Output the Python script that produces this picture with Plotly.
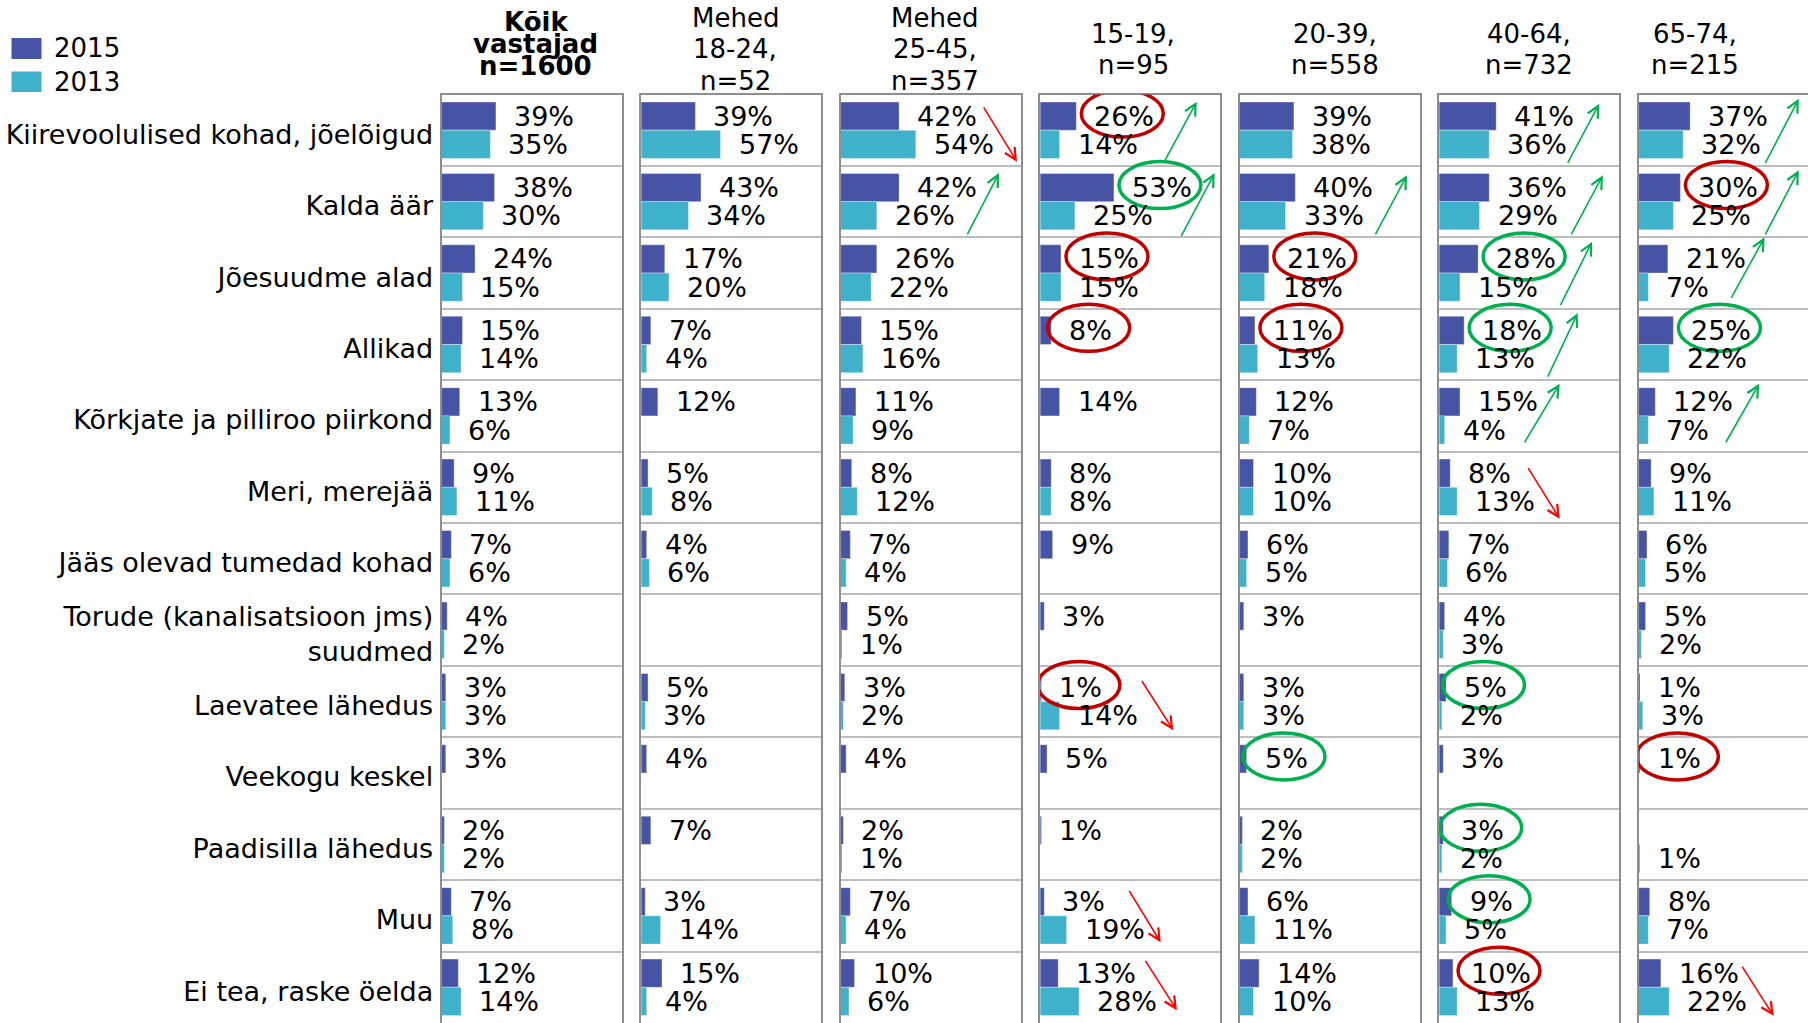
import plotly.graph_objects as go

# ---------------- data ----------------
categories = [
    "Kiirevoolulised kohad, jõelõigud", "Kalda äär", "Jõesuudme alad", "Allikad",
    "Kõrkjate ja pilliroo piirkond", "Meri, merejää", "Jääs olevad tumedad kohad",
    "Torude (kanalisatsioon jms)<br>suudmed", "Laevatee lähedus", "Veekogu keskel",
    "Paadisilla lähedus", "Muu", "Ei tea, raske öelda",
]

group_headers = [
    ["Kõik", "vastajad", "n=1600"],
    ["Mehed", "18-24,", "n=52"],
    ["Mehed", "25-45,", "n=357"],
    ["15-19,", "n=95"],
    ["20-39,", "n=558"],
    ["40-64,", "n=732"],
    ["65-74,", "n=215"],
]

series_names = ["2015", "2013"]
N = None
all_2015 = [39, 38, 24, 15, 13, 9, 7, 4, 3, 3, 2, 7, 12]
all_2013 = [35, 30, 15, 14, 6, 11, 6, 2, 3, N, 2, 8, 14]
m1824_2015 = [39, 43, 17, 7, 12, 5, 4, N, 5, 4, 7, 3, 15]
m1824_2013 = [57, 34, 20, 4, N, 8, 6, N, 3, N, N, 14, 4]
m2545_2015 = [42, 42, 26, 15, 11, 8, 7, 5, 3, 4, 2, 7, 10]
m2545_2013 = [54, 26, 22, 16, 9, 12, 4, 1, 2, N, 1, 4, 6]
a1519_2015 = [26, 53, 15, 8, 14, 8, 9, 3, 1, 5, 1, 3, 13]
a1519_2013 = [14, 25, 15, N, N, 8, N, N, 14, N, N, 19, 28]
a2039_2015 = [39, 40, 21, 11, 12, 10, 6, 3, 3, 5, 2, 6, 14]
a2039_2013 = [38, 33, 18, 13, 7, 10, 5, N, 3, N, 2, 11, 10]
a4064_2015 = [41, 36, 28, 18, 15, 8, 7, 4, 5, 3, 3, 9, 10]
a4064_2013 = [36, 29, 15, 13, 4, 13, 6, 3, 2, N, 2, 5, 13]
a6574_2015 = [37, 30, 21, 25, 12, 9, 6, 5, 1, 1, N, 8, 16]
a6574_2013 = [32, 25, 7, 22, 7, 11, 5, 2, 3, N, 1, 7, 22]

values_2015 = [all_2015, m1824_2015, m2545_2015, a1519_2015, a2039_2015, a4064_2015, a6574_2015]
values_2013 = [all_2013, m1824_2013, m2545_2013, a1519_2013, a2039_2013, a4064_2013, a6574_2013]

# highlighted 2015 values: (panel, category index, colour key)
circled = [
    (3, 0, "red"), (3, 1, "green"), (3, 2, "red"), (3, 3, "red"), (3, 8, "red"),
    (4, 2, "red"), (4, 3, "red"), (4, 9, "green"),
    (5, 2, "green"), (5, 3, "green"), (5, 8, "green"), (5, 10, "green"), (5, 11, "green"), (5, 12, "red"),
    (6, 1, "red"), (6, 3, "green"), (6, 9, "red"),
]
# trend arrows: (panel, category index, direction)
trend_arrows = [
    (2, 0, "down"), (2, 1, "up"),
    (3, 0, "up"), (3, 1, "up"), (3, 8, "down"), (3, 11, "down"), (3, 12, "down"),
    (4, 1, "up"),
    (5, 0, "up"), (5, 1, "up"), (5, 2, "up"), (5, 3, "up"), (5, 4, "up"), (5, 5, "down"),
    (6, 0, "up"), (6, 1, "up"), (6, 2, "up"), (6, 4, "up"), (6, 12, "down"),
]

# ---------------- layout / style ----------------
W, H = 1808, 1023
PPU = 1.393            # pixels per percentage point
PANEL_W = 180
PANEL_L0 = 441.6
PANEL_PITCH = 199.5
TOP_PX = 94.5
FONT = "DejaVu Sans, Verdana, sans-serif"
FS = 26       # headers / legend
FSV = 27      # value labels / category labels
C2015 = "#4753A5"
C2013 = "#3FB1CB"
BORDER = "#8e8e8e"
GRID = "#bdbdbd"
MARK_COL = {"red": "#C00000", "green": "#00B050"}
ARROW_COL = {"down": "#FF0000", "up": "#00B050"}
LABEL_GAP = 16
# arrow geometry inside a cell (fractions of panel width / row height): x tail, x head, y tail, y head
arrow_geom = {
    (2, 0): (0.79, 0.98, 0.16, 0.94), (2, 1): (0.70, 0.88, 0.98, 0.10),
    (3, 0): (0.69, 0.87, 0.94, 0.10), (3, 1): (0.78, 0.97, 1.00, 0.10),
    (3, 8): (0.56, 0.74, 0.19, 0.90), (3, 11): (0.49, 0.67, 0.13, 0.87),
    (3, 12): (0.58, 0.76, 0.11, 0.82),
    (4, 1): (0.75, 0.93, 0.98, 0.13),
    (5, 0): (0.71, 0.89, 0.98, 0.13), (5, 1): (0.73, 0.91, 0.98, 0.13),
    (5, 2): (0.67, 0.85, 0.97, 0.06), (5, 3): (0.60, 0.77, 0.97, 0.06),
    (5, 4): (0.47, 0.67, 0.89, 0.05), (5, 5): (0.49, 0.67, 0.21, 0.94),
    (6, 0): (0.70, 0.89, 0.98, 0.06), (6, 1): (0.70, 0.89, 0.98, 0.06),
    (6, 2): (0.51, 0.70, 0.87, 0.00), (6, 4): (0.48, 0.67, 0.89, 0.05),
    (6, 12): (0.57, 0.75, 0.19, 0.90),
}
header_shift = [4, 4, 4, 3, 5, 0, -34]

n_cat = len(categories)
ypos = list(range(n_cat))
fig = go.Figure()
layout = dict(
    width=W, height=H, margin=dict(l=0, r=0, t=0, b=0, pad=0, autoexpand=False),
    paper_bgcolor="white", plot_bgcolor="white",
    barmode="group", bargap=0.21, bargroupgap=0, showlegend=False,
    font=dict(family=FONT, size=FS, color="black"),
)
annotations, shapes = [], []
ydom = [0, 1 - TOP_PX / H]


def text_w(v):
    return (len(str(v)) * 0.636 + 0.95) * FSV


for k in range(len(group_headers)):
    sfx = "" if k == 0 else str(k + 1)
    xa, ya = "x" + sfx, "y" + sfx
    left = PANEL_L0 + k * PANEL_PITCH
    right = min(left + PANEL_W, W)
    xmax = (right - left) / PPU
    full_w_units = PANEL_W / PPU
    layout["xaxis" + sfx] = dict(
        domain=[left / W, right / W], range=[0, xmax], anchor=ya, automargin=False,
        showticklabels=False, showgrid=False, zeroline=False, ticks="",
        showline=True, mirror=True, linecolor=BORDER, linewidth=2, fixedrange=True,
    )
    layout["yaxis" + sfx] = dict(
        domain=ydom, range=[n_cat - 0.5, -0.5], anchor=xa, automargin=False,
        tickmode="array", tickvals=ypos, ticktext=categories,
        showticklabels=(k == 0), ticks="", showgrid=False, zeroline=False,
        showline=True, mirror=(k != 6), linecolor=BORDER, linewidth=2,
        tickfont=dict(family=FONT, size=FSV, color="black"),
        ticklabelshift=-4, ticklabelstandoff=1,
        minor=dict(tickmode="array", tickvals=[i + 0.5 for i in range(n_cat - 1)],
                   showgrid=True, gridcolor=GRID, gridwidth=2, ticks=""),
        fixedrange=True,
    )
    for sname, vals, col in ((series_names[0], values_2015[k], C2015),
                             (series_names[1], values_2013[k], C2013)):
        fig.add_trace(go.Bar(
            name=sname, y=ypos, x=vals, orientation="h", xaxis=xa, yaxis=ya,
            marker=dict(color=col, line=dict(color="rgba(255,255,255,0.35)", width=1)),
            hoverinfo="x+y",
        ))
    # value labels
    for i in range(n_cat):
        for vals, dy in ((values_2015[k], -0.1975), (values_2013[k], 0.1975)):
            v = vals[i]
            if v is None:
                continue
            annotations.append(dict(
                x=v, y=i + dy, xref=xa, yref=ya, text=f"{v}%", showarrow=False,
                xanchor="left", yanchor="middle", xshift=LABEL_GAP,
                font=dict(family=FONT, size=FSV, color="black"),
            ))
    # header
    hdr = group_headers[k]
    cx = (left + PANEL_W / 2 + header_shift[k]) / W
    if k == 0:
        ys = [22, 44, 66]
        bold = True
    elif len(hdr) == 3:
        ys = [18, 49.5, 80.5]
        bold = False
    else:
        ys = [34.5, 65.5]
        bold = False
    for line, py in zip(hdr, ys):
        annotations.append(dict(
            x=cx, y=1 - py / H, xref="paper", yref="paper", showarrow=False,
            text=f"<b>{line}</b>" if bold else line, xanchor="center", yanchor="middle",
            font=dict(family=FONT, size=FS, color="black"),
        ))
    # circles
    for (p, i, ck) in circled:
        if p != k:
            continue
        v = values_2015[k][i]
        cxp = LABEL_GAP + text_w(v) / 2
        shapes.append(dict(
            type="circle", xref=xa, yref=ya, xsizemode="pixel", ysizemode="pixel",
            xanchor=v, yanchor=i - 0.1975, x0=cxp - 41, x1=cxp + 41, y0=-21, y1=26,
            line=dict(color=MARK_COL[ck], width=3.5), fillcolor="rgba(0,0,0,0)",
        ))
    # arrows
    for (p, i, d) in trend_arrows:
        if p != k:
            continue
        fx0, fx1, fy0, fy1 = arrow_geom[(p, i)]
        annotations.append(dict(
            x=fx1 * full_w_units, y=i - 0.5 + fy1, xref=xa, yref=ya,
            ax=fx0 * full_w_units, ay=i - 0.5 + fy0, axref=xa, ayref=ya,
            text="", showarrow=True, arrowhead=5, arrowsize=1.4, arrowwidth=1.6,
            arrowcolor=ARROW_COL[d], standoff=0, startstandoff=0,
        ))

# legend (manual)
for sname, col, (py0, py1) in ((series_names[0], C2015, (38, 59)), (series_names[1], C2013, (71.5, 92))):
    shapes.append(dict(type="rect", xref="paper", yref="paper",
                       x0=11.5 / W, x1=41.5 / W, y0=1 - py1 / H, y1=1 - py0 / H,
                       fillcolor=col, line=dict(width=0)))
    annotations.append(dict(x=52 / W, y=1 - (py0 + py1) / 2 / H, xref="paper", yref="paper",
                            text=sname, showarrow=False, xanchor="left", yanchor="middle",
                            font=dict(family=FONT, size=FS, color="black")))

layout["annotations"] = annotations
layout["shapes"] = shapes
fig.update_layout(**layout)
fig.write_html(
    "out.html",
    config={"displayModeBar": False},
    post_script="document.body.style.margin='0';document.body.style.overflow='hidden';",
)
